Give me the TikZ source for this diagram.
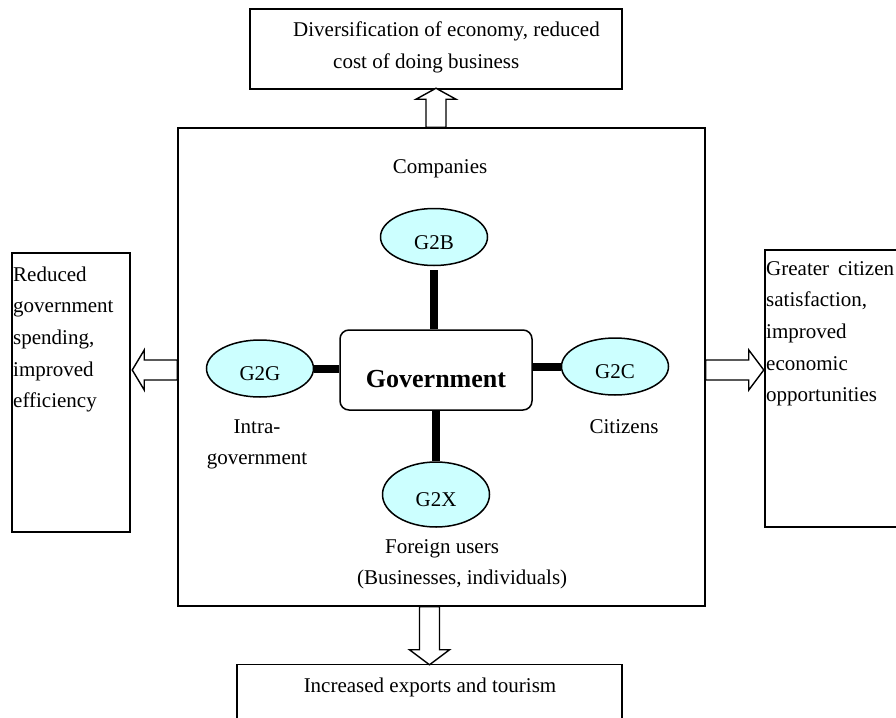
\documentclass[tikz,border=0pt]{standalone}
\usepackage{fontspec}
\setmainfont{Liberation Serif}
\usetikzlibrary{shapes.geometric}
\definecolor{paleblue}{RGB}{204,255,255}

\begin{document}
\begin{tikzpicture}[x=1pt, y=-1pt,
 pics/hollow/.style n args={2}{code={
  \draw[line width=1.4pt, fill=white, line join=miter] (0,-10) -- (#1-#2,-10) -- (#1-#2,-20) -- (#1,0) -- (#1-#2,20) -- (#1-#2,10) -- (0,10) -- cycle;}}]
 \tikzstyle{frame}=[rectangle, draw, line width=1.5pt, inner sep=0pt]
 \tikzstyle{txt}=[inner sep=0pt, font=\fontsize{21pt}{31.7pt}\selectfont]
 \tikzstyle{egov}=[ellipse, draw, line width=1.5pt, fill=paleblue, inner sep=0pt, minimum width=107pt, minimum height=57pt, text height=24pt, text depth=0pt, font=\fontsize{21pt}{25pt}\selectfont]
 \tikzstyle{link}=[line width=8pt]
 %
 \useasboundingbox (0,0) rectangle (896,717);
 \clip (0,0) rectangle (896,717);
 %
 \node[frame, minimum width=527pt, minimum height=478pt] (main) at (441.5, 367) {};
 \node[frame, minimum width=372pt, minimum height=80pt] (topbox) at (436, 49) {};
 \node[frame, minimum width=118pt, minimum height=279pt] (leftbox) at (71, 392.5) {};
 \node[frame, minimum width=140pt, minimum height=277pt] (rightbox) at (835, 388.5) {};
 \node[frame, minimum width=385pt, minimum height=75pt] (botbox) at (429.5, 702) {};
 %
 \node[frame, rounded corners=9pt, minimum width=192pt, minimum height=80pt, text height=34pt, text depth=0pt, font=\bfseries\fontsize{26pt}{30pt}\selectfont] (gov) at (436, 370) {Government};
 \node[egov] (g2b) at (434, 237) {G2B};
 \node[egov] (g2g) at (260, 368.5) {G2G};
 \node[egov] (g2c) at (615, 366.5) {G2C};
 \node[egov, minimum height=65pt] (g2x) at (436, 494.5) {G2X};
 %%
 \draw[link] (g2b.south) ++(0,4) -- (g2b.south |- gov.north);
 \draw[link] (g2x.north) -- (g2x.north |- gov.south);
 \draw[link] (g2g.east) -- (g2g.east -| gov.west);
 \draw[link] (gov.east |- g2c.west) -- (g2c.west);
 %
 \pic[rotate=90] at (main.north -| topbox.south) {hollow={39}{11}};
 \pic[rotate=-90] at (main.south -| botbox.north) {hollow={58}{15}};
 \pic[rotate=180] at (main.west |- gov.center) {hollow={45}{12}};
 \pic at (main.east |- gov.center) {hollow={58}{15}};
 %
 \node[txt, anchor=base] (lcomp) at (440, 173) {Companies};
 \node[txt, anchor=base, align=center] (lintra) at (257, 464.7) {Intra-\\government};
 \node[txt, anchor=base] (lcit) at (624, 433) {Citizens};
 \node[txt, anchor=base west, align=left] (lfor) at (357, 584.7) {\hspace*{28pt}Foreign users\\(Businesses, individuals)};
 %
 \node[txt, anchor=base west, align=left] (ttop) at (293, 68.7) {Diversification of economy, reduced\\\hspace*{40pt}cost of doing business};
 \node[txt, anchor=base] (tbot) at (430, 692) {Increased exports and tourism};
 \node[txt, anchor=base west, align=left] (tleft) at (13, 407.8) {Reduced\\government\\spending,\\improved\\efficiency};
 \node[txt, anchor=base west, align=left] (tright) at (766, 401.8) {Greater\hspace{9pt}citizen\\satisfaction,\\improved\\economic\\opportunities};
\end{tikzpicture}
\end{document}
